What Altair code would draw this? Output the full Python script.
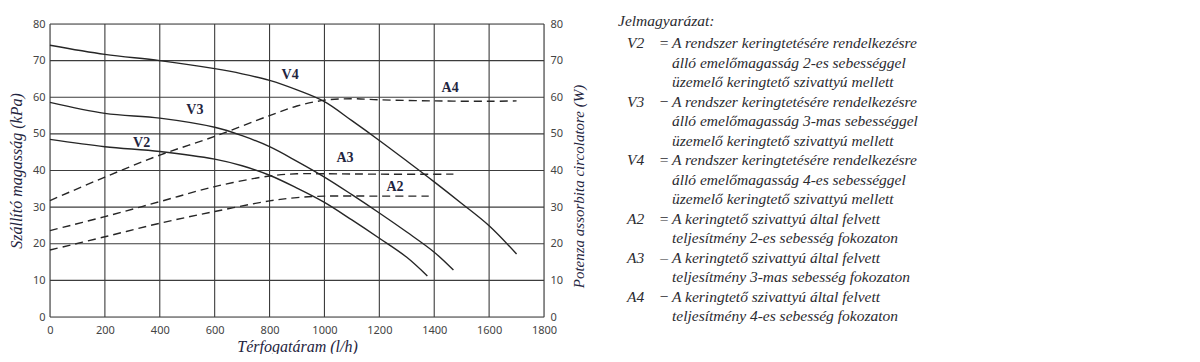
import altair as alt
import pandas as pd

# --- data ---
V2_x = [0, 200, 400, 600, 700, 800, 900, 1000, 1100, 1200, 1300, 1375]
V2_y = [48.5, 46.5, 45.2, 43.1, 41.3, 38.7, 35.2, 31.3, 26.5, 21.5, 16.3, 11.2]
V3_x = [0, 200, 400, 600, 700, 800, 900, 1000, 1100, 1200, 1300, 1400, 1470]
V3_y = [58.6, 55.6, 54.3, 51.8, 49.5, 46.5, 42.5, 38.2, 33.4, 28.4, 23.2, 17.7, 12.8]
V4_x = [0, 200, 400, 600, 700, 800, 900, 1000, 1100, 1200, 1300, 1400, 1500, 1600, 1700]
V4_y = [74.2, 71.7, 70.0, 67.8, 66.4, 64.6, 62.0, 58.8, 53.6, 48.2, 42.6, 36.9, 31.0, 24.9, 17.2]
A2_x = [0, 200, 400, 600, 800, 900, 1000, 1200, 1380]
A2_y = [18.3, 21.9, 25.6, 28.8, 31.7, 32.6, 33.0, 33.0, 33.0]
A3_x = [0, 200, 400, 600, 800, 900, 1000, 1200, 1470]
A3_y = [23.6, 27.4, 31.5, 35.6, 38.5, 39.1, 39.1, 39.0, 39.0]
A4_x = [0, 200, 400, 600, 800, 900, 1000, 1100, 1200, 1400, 1600, 1700]
A4_y = [31.8, 38.2, 44.2, 49.3, 55.0, 57.6, 59.2, 59.6, 59.3, 59.0, 58.9, 59.0]

V_labels = ["V2", "V3", "V4"]
V_label_x = [334, 528, 875]
V_label_y = [47.6, 56.5, 66.1]
A_labels = ["A2", "A3", "A4"]
A_label_x = [1257, 1075, 1458]
A_label_y = [35.6, 43.4, 62.5]

x_ticks = [0, 200, 400, 600, 800, 1000, 1200, 1400, 1600, 1800]
y_ticks = [0, 10, 20, 30, 40, 50, 60, 70, 80]

legend_title = "Jelmagyarázat:"
legend_codes = ["V2", "", "", "V3", "", "", "V4", "", "", "A2", "", "A3", "", "A4", ""]
legend_signs = ["=", "", "", "−", "", "", "=", "", "", "=", "", "–", "", "−", ""]
legend_lines = [
    "A rendszer keringtetésére rendelkezésre",
    "álló emelőmagasság 2-es sebességgel",
    "üzemelő keringtető szivattyú mellett",
    "A rendszer keringtetésére rendelkezésre",
    "álló emelőmagasság 3-mas sebességgel",
    "üzemelő keringtető szivattyú mellett",
    "A rendszer keringtetésére rendelkezésre",
    "álló emelőmagasság 4-es sebességgel",
    "üzemelő keringtető szivattyú mellett",
    "A keringtető szivattyú által felvett",
    "teljesítmény 2-es sebesség fokozaton",
    "A keringtető szivattyú által felvett",
    "teljesítmény 3-mas sebesség fokozaton",
    "A keringtető szivattyú által felvett",
    "teljesítmény 4-es sebesség fokozaton",
]

# --- tables ---
def long(series):
    rows = []
    for name, xs, ys in series:
        for a, b in zip(xs, ys):
            rows.append({"series": name, "q": a, "v": b})
    return pd.DataFrame(rows)

v_df = long([("V2", V2_x, V2_y), ("V3", V3_x, V3_y), ("V4", V4_x, V4_y)])
a_df = long([("A2", A2_x, A2_y), ("A3", A3_x, A3_y), ("A4", A4_x, A4_y)])
vl_df = pd.DataFrame({"lab": V_labels, "q": V_label_x, "v": V_label_y})
al_df = pd.DataFrame({"lab": A_labels, "q": A_label_x, "v": A_label_y})
gx_df = pd.DataFrame({"q": x_ticks})
gy_df = pd.DataFrame({"v": y_ticks})
leg_df = pd.DataFrame({
    "row": list(range(len(legend_lines))),
    "code": legend_codes,
    "sign": legend_signs,
    "line": legend_lines,
})

TITLE_FONT = "Liberation Serif"
TICK_FONT = "Noto Sans"
TITLE_COLOR = "#1f2540"
LINE_COLOR = "#262626"
GRID_COLOR = "#3c3c3c"

x_scale = alt.Scale(domain=[0, 1800], nice=False)
x_enc = alt.X(
    "q:Q",
    scale=x_scale,
    axis=alt.Axis(
        values=x_ticks, format="d", title="Térfogatáram (l/h)", grid=False,
        domain=False, ticks=False, labelPadding=7, labelFlush=False,
        labelFont=TICK_FONT, labelFontSize=11, labelColor="#444",
        titleFont=TITLE_FONT, titleFontStyle="italic", titleFontWeight="normal",
        titleFontSize=16, titleColor=TITLE_COLOR, titlePadding=3,
    ),
)

left_axis = alt.Axis(
    values=y_ticks, format="d", title="Szállító magasság (kPa)", grid=False,
    domain=False, ticks=False, labelPadding=5, labelFlush=False,
    labelFont=TICK_FONT, labelFontSize=11, labelColor="#444",
    titleFont=TITLE_FONT, titleFontStyle="italic", titleFontWeight="normal",
    titleFontSize=16, titleColor=TITLE_COLOR, titlePadding=8,
)
right_axis = alt.Axis(
    values=y_ticks, format="d", title="Potenza assorbita circolatore (W)", grid=False,
    domain=False, ticks=False, labelPadding=6, labelFlush=False, orient="right",
    labelFont=TICK_FONT, labelFontSize=11, labelColor="#444",
    titleFont=TITLE_FONT, titleFontStyle="italic", titleFontWeight="normal",
    titleFontSize=15, titleColor=TITLE_COLOR, titlePadding=24, titleAngle=270,
    titleY=162,
)
y_scale = alt.Scale(domain=[0, 80], nice=False)

grid_x = alt.Chart(gx_df).mark_rule(color=GRID_COLOR, strokeWidth=1.1).encode(x=x_enc)
grid_y = alt.Chart(gy_df).mark_rule(color=GRID_COLOR, strokeWidth=1.1).encode(
    y=alt.Y("v:Q", scale=y_scale, axis=left_axis)
)

v_lines = alt.Chart(v_df).mark_line(
    interpolate="catmull-rom", color=LINE_COLOR, strokeWidth=1.4
).encode(x=x_enc, y=alt.Y("v:Q", scale=y_scale, axis=left_axis), detail="series:N")

v_text = alt.Chart(vl_df).mark_text(
    font=TITLE_FONT, fontWeight="bold", fontSize=14, color=TITLE_COLOR
).encode(x=x_enc, y=alt.Y("v:Q", scale=y_scale, axis=left_axis), text="lab:N")

a_lines = alt.Chart(a_df).mark_line(
    interpolate="catmull-rom", color=LINE_COLOR, strokeWidth=1.4, strokeDash=[8, 5]
).encode(x=x_enc, y=alt.Y("v:Q", scale=y_scale, axis=right_axis), detail="series:N")

a_text = alt.Chart(al_df).mark_text(
    font=TITLE_FONT, fontWeight="bold", fontSize=14, color=TITLE_COLOR
).encode(x=x_enc, y=alt.Y("v:Q", scale=y_scale, axis=right_axis), text="lab:N")

one = alt.Data(values=[{"k": 1}])
LEG_FONT = "Liberation Serif"
LEG_COLOR = "#2b2b30"
LEG_SIZE = 15.5
LH = 19.5

leg_title = alt.Chart(one).mark_text(
    text=legend_title, font=LEG_FONT, fontStyle="italic", fontSize=LEG_SIZE,
    color=LEG_COLOR, align="left", baseline="alphabetic",
).encode(x=alt.value(568), y=alt.value(2))

leg_base = alt.Chart(leg_df).transform_calculate(py=f"datum.row * {LH} + 24")
leg_codes = leg_base.mark_text(
    font=LEG_FONT, fontStyle="italic", fontSize=LEG_SIZE,
    color=LEG_COLOR, align="left", baseline="alphabetic",
).encode(x=alt.value(577), y=alt.Y("py:Q", scale=None), text="code:N")
leg_signs = leg_base.mark_text(
    font=LEG_FONT, fontSize=LEG_SIZE,
    color=LEG_COLOR, align="center", baseline="alphabetic",
).encode(x=alt.value(614), y=alt.Y("py:Q", scale=None), text="sign:N")
leg_lines = leg_base.mark_text(
    font=LEG_FONT, fontStyle="italic", fontSize=LEG_SIZE,
    color=LEG_COLOR, align="left", baseline="alphabetic",
).encode(x=alt.value(622), y=alt.Y("py:Q", scale=None), text="line:N")

left = alt.layer(grid_x, grid_y, v_lines, v_text)
right = alt.layer(a_lines, a_text)
legend = alt.layer(leg_title, leg_codes, leg_signs, leg_lines)

chart = alt.layer(left, right, legend).resolve_scale(
    y="independent"
).properties(
    width=494, height=293,
    autosize=alt.AutoSizeParams(type="none"),
    padding={"left": 42, "top": 16, "right": 648, "bottom": 37},
).configure_view(stroke="black", strokeWidth=2).configure(background="white")

chart.save("out.html", embed_options={"renderer": "svg", "actions": False})
